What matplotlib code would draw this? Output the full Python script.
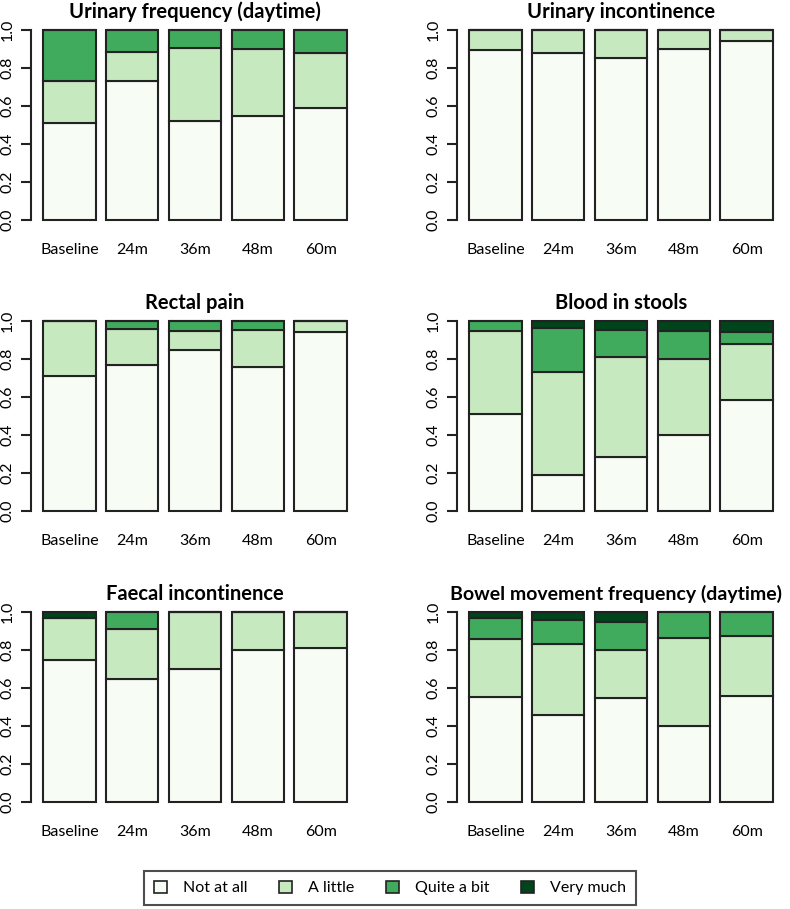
import matplotlib.pyplot as plt
from matplotlib.patches import Patch
import numpy as np

plt.rcParams['font.family'] = ['Lato', 'DejaVu Sans']

timepoints = ["Baseline", "24m", "36m", "48m", "60m"]
levels = ["Not at all", "A little", "Quite a bit", "Very much"]
colours = ["#F7FCF5", "#C7E9C0", "#41AB5D", "#00441B"]

# proportions per level (rows) and time point (columns)
urinary_frequency = [
    [0.51, 0.73, 0.52, 0.55, 0.59],
    [0.22, 0.155, 0.385, 0.35, 0.29],
    [0.27, 0.115, 0.095, 0.10, 0.12],
    [0.0, 0.0, 0.0, 0.0, 0.0],
]
urinary_incontinence = [
    [0.895, 0.88, 0.855, 0.90, 0.94],
    [0.105, 0.12, 0.145, 0.10, 0.06],
    [0.0, 0.0, 0.0, 0.0, 0.0],
    [0.0, 0.0, 0.0, 0.0, 0.0],
]
rectal_pain = [
    [0.71, 0.77, 0.85, 0.76, 0.94],
    [0.29, 0.19, 0.10, 0.195, 0.06],
    [0.0, 0.04, 0.05, 0.045, 0.0],
    [0.0, 0.0, 0.0, 0.0, 0.0],
]
blood_in_stools = [
    [0.51, 0.19, 0.285, 0.40, 0.585],
    [0.435, 0.54, 0.525, 0.40, 0.295],
    [0.055, 0.235, 0.145, 0.15, 0.06],
    [0.0, 0.035, 0.045, 0.05, 0.06],
]
faecal_incontinence = [
    [0.75, 0.65, 0.70, 0.80, 0.81],
    [0.22, 0.26, 0.30, 0.20, 0.19],
    [0.0, 0.09, 0.0, 0.0, 0.0],
    [0.03, 0.0, 0.0, 0.0, 0.0],
]
bowel_frequency = [
    [0.555, 0.46, 0.55, 0.40, 0.56],
    [0.305, 0.37, 0.25, 0.465, 0.315],
    [0.11, 0.13, 0.15, 0.135, 0.125],
    [0.03, 0.04, 0.05, 0.0, 0.0],
]

panels = [
    ("Urinary frequency (daytime)", urinary_frequency),
    ("Urinary incontinence", urinary_incontinence),
    ("Rectal pain", rectal_pain),
    ("Blood in stools", blood_in_stools),
    ("Faecal incontinence", faecal_incontinence),
    ("Bowel movement frequency (daytime)", bowel_frequency),
]

W, H = 790, 909
fig = plt.figure(figsize=(W / 100, H / 100), dpi=100)

# plot regions in pixels (left, right, top, bottom)
cols = [(31, 359), (457, 785)]
rows = [(22.4, 227.6), (313.4, 518.6), (604.4, 809.6)]

x = 0.7 + 1.2 * np.arange(len(timepoints))

for i, (title, data) in enumerate(panels):
    x0, x1 = cols[i % 2]
    yt, yb = rows[i // 2]
    ax = fig.add_axes([x0 / W, 1 - yb / H, (x1 - x0) / W, (yb - yt) / H])
    bottom = np.zeros(len(timepoints))
    for vals, c in zip(data, colours):
        vals = np.array(vals)
        ax.bar(x, vals, width=1.0, bottom=bottom, color=c,
               edgecolor="#222222", linewidth=1.5)
        bottom += vals
    ax.set_xlim(-0.032, 6.232)
    ax.set_ylim(-0.04, 1.04)
    for s in ["top", "right", "bottom"]:
        ax.spines[s].set_visible(False)
    ax.spines["left"].set_bounds(0, 1)
    ax.spines["left"].set_linewidth(1.5)
    ax.spines["left"].set_color("#222222")
    ax.set_yticks(np.arange(0, 1.01, 0.2))
    ax.set_yticklabels([f"{v:.1f}" for v in np.arange(0, 1.01, 0.2)],
                       rotation=90, va="center", fontsize=11.5)
    ax.tick_params(axis="y", length=7, width=1.5, pad=5, color="#222222")
    ax.set_xticks(x)
    ax.set_xticklabels(timepoints, fontsize=11.5)
    ax.tick_params(axis="x", length=0, pad=11)
    # the longest title is nudged left a little so it stays inside the figure
    if len(title) > 30:
        ax.set_title(title, fontsize=14, fontweight="bold", pad=3, x=0.485)
    else:
        ax.set_title(title, fontsize=14.5, fontweight="bold", pad=3)

handles = [Patch(facecolor=c, edgecolor="#222222", linewidth=1.2) for c in colours]
leg = fig.legend(handles, levels, loc="center", bbox_to_anchor=(390 / W, 1 - 888 / H),
                 ncol=4, fontsize=11.5, frameon=True, fancybox=False,
                 handlelength=0.8, handleheight=0.8, handletextpad=1.0,
                 columnspacing=2.0, borderpad=0.6)
leg.get_frame().set_edgecolor("#222222")
leg.get_frame().set_linewidth(1.5)

fig.savefig("out.png", dpi=100)
